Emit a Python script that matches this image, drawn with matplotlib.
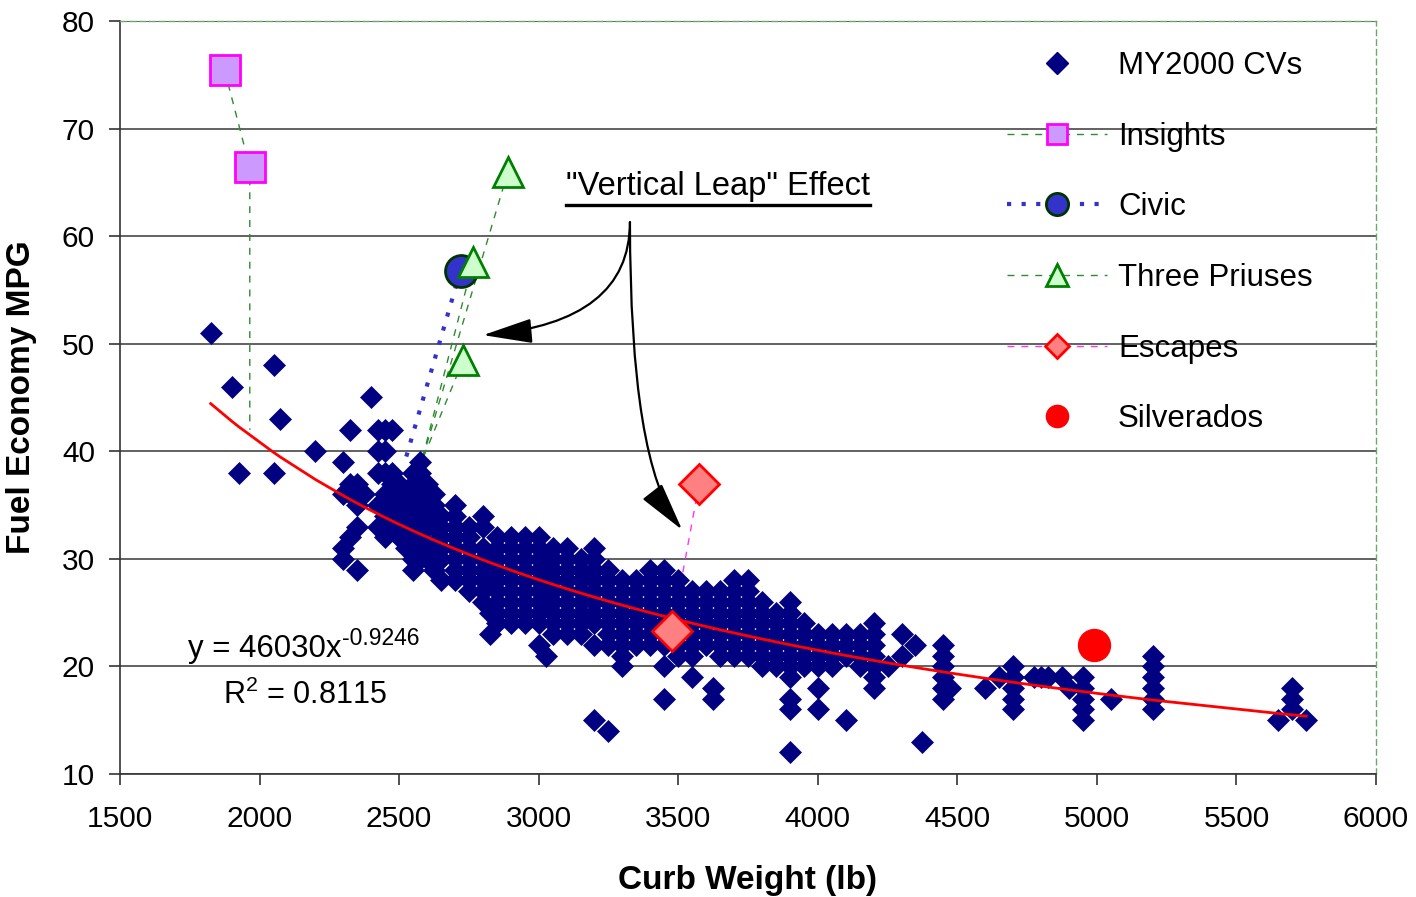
import numpy as np
import matplotlib.pyplot as plt
from matplotlib.lines import Line2D
from matplotlib.transforms import offset_copy

plt.rcParams['font.family'] = ['Liberation Sans', 'DejaVu Sans']
plt.rcParams['mathtext.fontset'] = 'custom'
plt.rcParams['mathtext.rm'] = 'Liberation Sans'
plt.rcParams['mathtext.default'] = 'regular'

# MY2000 conventional vehicles
# (curb weight in lb, list of MPG values at that weight)
cv_light_w = [1825, 1900, 1925, 2050, 2075, 2200, 2300, 2325, 2350, 2375,
              2400, 2425, 2450, 2475]
cv_light_mpg = [[51], [46], [38], [48, 38], [43], [40], [39, 36, 31, 30],
                [42, 37, 36, 32], [37, 35, 33, 29], [36], [45],
                [42, 40, 38, 35, 33], [42, 40, 38, 36, 34, 32],
                [42, 38, 37, 35, 33]]

cv_mid_w = [2500, 2525, 2550, 2575, 2600, 2625, 2650, 2700, 2750, 2800,
            2825, 2850, 2900, 2950, 3000, 3025, 3050, 3100, 3150, 3200]
cv_mid_mpg = [[37, 36, 35, 34, 33, 32],
              [36, 34, 32, 31],
              [38, 37, 35, 33, 31, 30, 29],
              [39, 38, 37, 36, 35, 34, 32, 30],
              [37, 36, 35, 34, 33, 31, 30],
              [36, 35, 33, 31, 29],
              [34, 33, 32, 31, 30, 28],
              [35, 34, 33, 32, 31, 30, 29, 28],
              [33, 32, 31, 30, 29, 28, 27],
              [34, 33, 31, 30, 29, 28, 27, 26],
              [30, 28, 25, 23],
              [32, 31, 30, 29, 28, 27, 26, 25, 24],
              [32, 31, 30, 29, 28, 27, 26, 25, 24],
              [32, 31, 30, 29, 28, 27, 26, 25, 24],
              [32, 31, 30, 29, 28, 27, 26, 25, 24, 22],
              [30, 28, 26, 21],
              [31, 30, 29, 28, 27, 26, 25, 24, 23],
              [31, 30, 29, 28, 27, 26, 25, 24, 23],
              [30, 29, 28, 27, 26, 25, 24, 23],
              [31, 30, 29, 28, 27, 26, 25, 24, 22, 15]]

cv_upper_w = [3250, 3300, 3350, 3400, 3450, 3500, 3550, 3600, 3625, 3650,
              3700, 3750, 3800]
cv_upper_mpg = [[29, 28, 27, 26, 25, 24, 23, 22, 14],
                [28, 27, 26, 25, 24, 23, 22, 21, 20],
                [28, 27, 26, 25, 24, 23, 22],
                [29, 28, 27, 26, 25, 24, 23, 22],
                [29, 28, 27, 26, 25, 24, 23, 22, 20, 17],
                [28, 27, 26, 25, 24, 23, 22, 21],
                [27, 26, 25, 24, 23, 22, 21, 19],
                [27, 26, 25, 24, 23, 22],
                [18, 17],
                [27, 26, 25, 24, 23, 22, 21],
                [28, 27, 26, 25, 24, 23, 22, 21],
                [28, 27, 26, 25, 24, 23, 22, 21],
                [26, 25, 24, 23, 22, 21, 20]]

cv_heavy_w = [3850, 3900, 3950, 4000, 4050, 4100, 4150, 4200, 4250, 4300,
              4350, 4375, 4450, 4475, 4600, 4650, 4700, 4775, 4800, 4825,
              4875, 4900, 4950, 5050, 5200, 5650, 5700, 5750]
cv_heavy_mpg = [[25, 24, 23, 22, 21, 20],
                [26, 25, 24, 23, 22, 21, 20, 19, 17, 16, 12],
                [24, 23, 22, 21, 20],
                [23, 22, 21, 20, 18, 16],
                [23, 22, 21, 20],
                [23, 22, 21, 15],
                [23, 22, 21, 20],
                [24, 23, 22, 21, 20, 19, 18],
                [20],
                [23, 21],
                [22],
                [13],
                [22, 21, 20, 19, 18, 17],
                [18],
                [18],
                [19],
                [20, 19, 18, 17, 16],
                [19], [19], [19], [19],
                [18],
                [19, 18, 17, 16, 15],
                [17],
                [21, 20, 19, 18, 17, 16],
                [15],
                [18, 17, 16],
                [15]]

# hybrids and the conventional counterpart each one leaps from
insight_w = [1875, 1965]
insight_mpg = [75.4, 66.4]
insight_base = (1965, 42)

civic_w = [2720]
civic_mpg = [56.8]
civic_base = (2520, 39)

prius_w = [2890, 2765, 2730]
prius_mpg = [66, 57.6, 48.5]
prius_base = (2580, 39)

escape_w = [3575, 3478]
escape_mpg = [37, 23.3]

silverado_w = [4990]
silverado_mpg = [22]

# power-law trendline printed on the chart
trend_a = 46030
trend_b = -0.9246
trend_r2 = 0.8115


def flatten(ws, mpgs):
    xs, ys = [], []
    for w, col in zip(ws, mpgs):
        for m in col:
            xs.append(w)
            ys.append(m)
    return xs, ys


cv_x, cv_y = [], []
for ws, ms in [(cv_light_w, cv_light_mpg), (cv_mid_w, cv_mid_mpg),
               (cv_upper_w, cv_upper_mpg), (cv_heavy_w, cv_heavy_mpg)]:
    xs, ys = flatten(ws, ms)
    cv_x += xs
    cv_y += ys

fig = plt.figure(figsize=(14.16, 8.97), dpi=100)
ax = fig.add_axes([120 / 1416, 1 - 774 / 897, 1256 / 1416, 753 / 897])

ax.set_xlim(1500, 6000)
ax.set_ylim(10, 80)
ax.set_xticks(np.arange(1500, 6001, 500))
ax.set_yticks(np.arange(10, 81, 10))
ax.yaxis.grid(True, color='#555555', lw=1.3, zorder=0)
ax.set_axisbelow(True)
ax.tick_params(axis='both', labelsize=21.5, length=8, width=1.2, color='#333333')
ax.tick_params(axis='y', pad=10)
ax.tick_params(axis='x', pad=14)

for side in ['top', 'right']:
    ax.spines[side].set_color('#66aa66')
    ax.spines[side].set_linestyle((0, (4, 3)))
    ax.spines[side].set_linewidth(1.0)
for side in ['left', 'bottom']:
    ax.spines[side].set_color('#333333')
    ax.spines[side].set_linewidth(1.2)

# connecting lines (drawn underneath the markers)
green_dash = (0, (5, 5))
ax.plot(insight_w + [insight_base[0]], insight_mpg + [insight_base[1]],
        color='#2e8b2e', lw=1.0, ls=green_dash, zorder=2)
ax.plot([civic_w[0], civic_base[0]], [civic_mpg[0], civic_base[1]],
        color='#3333cc', lw=3, ls=(0, (1, 2.5)), zorder=2)
for w, m in zip(prius_w, prius_mpg):
    ax.plot([w, prius_base[0]], [m, prius_base[1]],
            color='#2e8b2e', lw=1.0, ls=green_dash, zorder=2)
ax.plot(escape_w, escape_mpg, color='#ff33ff', lw=1.0, ls=green_dash, zorder=2)

# conventional vehicles
ax.plot(cv_x, cv_y, ls='none', marker='D', ms=11.5, color='#000080',
        mec='#000080', mew=0.5, zorder=3)

# trendline
tx = np.array(sorted(set(cv_x)), dtype=float)
ax.plot(tx, trend_a * tx ** trend_b, color='red', lw=2, zorder=4)

# hybrid markers
ax.plot(insight_w, insight_mpg, ls='none', marker='s', ms=21,
        mfc='#cc99ff', mec='#ff00ff', mew=2, zorder=5)
ax.plot(civic_w, civic_mpg, ls='none', marker='o', ms=23,
        mfc='#3333cc', mec='#003300', mew=2, zorder=5)
ax.plot(prius_w, prius_mpg, ls='none', marker='^', ms=21,
        mfc='#ccffcc', mec='#008000', mew=2, zorder=5)
ax.plot(escape_w, escape_mpg, ls='none', marker='D', ms=20,
        mfc='#ff8080', mec='#ff0000', mew=2, zorder=5)
ax.plot(silverado_w, silverado_mpg, ls='none', marker='o', ms=23,
        color='red', mec='red', zorder=5)

# equation of the fit
eq = ax.text(1744, 20.9, 'y = %dx' % trend_a, fontsize=22.5,
             ha='left', va='baseline', zorder=6)
ax.text(1869, 16.5, 'R$^{2}$ = %.4f' % trend_r2, fontsize=22,
        ha='left', va='baseline', zorder=6)

# "Vertical Leap" annotation
leap = ax.text(3643, 64.6, '"Vertical Leap" Effect', fontsize=23.5,
               ha='center', va='center', zorder=6)
arrow_head = '-|>,head_length=1.4,head_width=0.35'
ax.annotate('', xy=(2801, 50.8), xytext=(3327, 61.3),
            arrowprops=dict(arrowstyle=arrow_head, color='black', lw=1.6,
                            mutation_scale=22, shrinkA=0, shrinkB=0,
                            connectionstyle='angle3,angleA=90,angleB=5'),
            zorder=6)
ax.annotate('', xy=(3514, 32.7), xytext=(3327, 61.3),
            arrowprops=dict(arrowstyle=arrow_head, color='black', lw=1.6,
                            mutation_scale=22, shrinkA=0, shrinkB=0,
                            connectionstyle='angle3,angleA=90,angleB=-52'),
            zorder=6)

ax.set_xlabel('Curb Weight (lb)', fontsize=24, fontweight='bold')
ax.xaxis.set_label_coords(0.5, -106 / 753)
ax.xaxis.label.set_va('center')
ax.set_ylabel('Fuel Economy MPG', fontsize=24, fontweight='bold')
ax.yaxis.set_label_coords(-98 / 1256, 0.5)
ax.yaxis.label.set_va('center')

handles = [
    Line2D([], [], ls='none', marker='D', ms=11.5, color='#000080'),
    Line2D([], [], color='#2e8b2e', lw=1.0, ls=green_dash, marker='s', ms=15,
           mfc='#cc99ff', mec='#ff00ff', mew=2),
    Line2D([], [], color='#3333cc', lw=3, ls=(0, (1, 2.5)), marker='o', ms=16,
           mfc='#3333cc', mec='#003300', mew=2),
    Line2D([], [], color='#2e8b2e', lw=1.0, ls=green_dash, marker='^', ms=16,
           mfc='#ccffcc', mec='#008000', mew=2),
    Line2D([], [], color='#ff33ff', lw=1.0, ls=green_dash, marker='D', ms=12.5,
           mfc='#ff8080', mec='#ff0000', mew=2),
    Line2D([], [], ls='none', marker='o', ms=16, color='red'),
]
labels = ['MY2000 CVs', 'Insights', 'Civic', 'Three Priuses', 'Escapes',
          'Silverados']
ax.legend(handles, labels, loc='upper left',
          bbox_to_anchor=((1007 - 120) / 1256, (774 - 51) / 753),
          frameon=False, fontsize=22.5, borderpad=0, borderaxespad=0,
          handlelength=3.2, handletextpad=0.35, labelspacing=1.3)

# underline and the exponent need the laid-out text extents
fig.canvas.draw()
inv = fig.transFigure.inverted()
bb = leap.get_window_extent().transformed(inv)
fig.add_artist(Line2D([bb.x0, bb.x1], [bb.y0 - 0.003, bb.y0 - 0.003],
                      color='black', lw=2.4, transform=fig.transFigure))
bb = eq.get_window_extent()
sup_tr = offset_copy(ax.transData, fig=fig, x=bb.width, y=12, units='dots')
ax.text(1744, 20.9, '%.4f' % trend_b, fontsize=16.5, ha='left',
        va='baseline', transform=sup_tr, zorder=6)

fig.savefig('out.png', dpi=100)
